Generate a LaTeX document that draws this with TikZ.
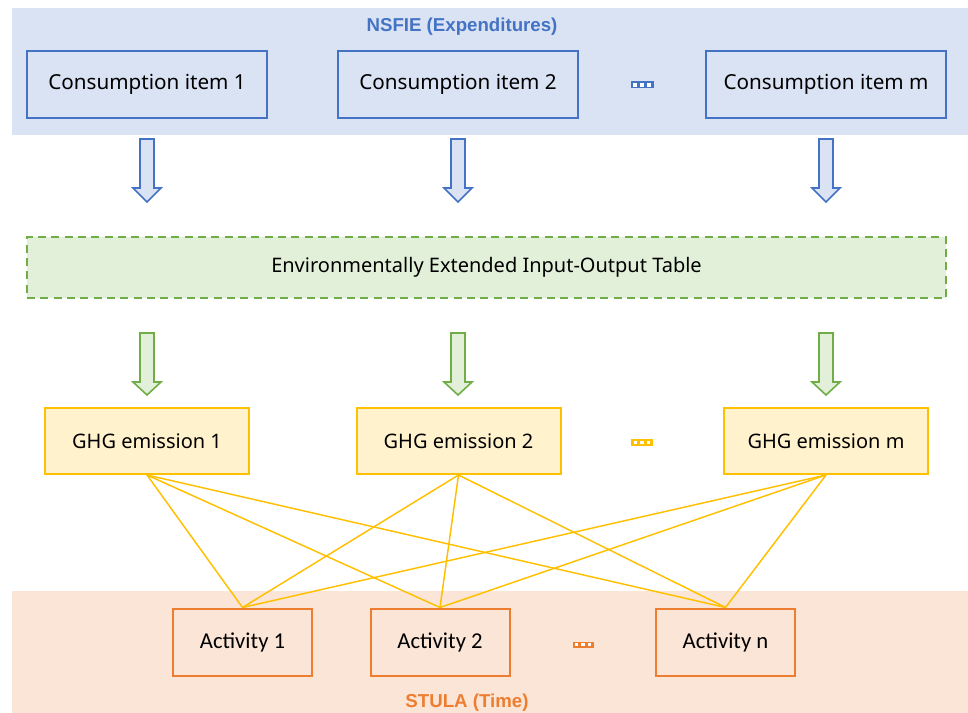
\documentclass[tikz,border=0pt]{standalone}
\usepackage{fontspec}
\newfontfamily\boxfont{Noto Sans}
\newfontfamily\actfont{Carlito}
\newfontfamily\ttlfont{Liberation Sans}
\definecolor{bstroke}{HTML}{4472C4}
\definecolor{bfill}{HTML}{DAE3F3}
\definecolor{gstroke}{HTML}{70AD47}
\definecolor{gfill}{HTML}{E2F0D9}
\definecolor{ystroke}{HTML}{FFC000}
\definecolor{yfill}{HTML}{FFF2CC}
\definecolor{ostroke}{HTML}{ED7D31}
\definecolor{ofill}{HTML}{FBE5D6}
\begin{document}
\begin{tikzpicture}[x=0.75pt,y=-0.75pt,
  consbox/.style={draw=bstroke,line width=1.5pt,fill=bfill,minimum width=180pt,minimum height=50.25pt,inner sep=0pt,font=\boxfont\fontsize{15.5}{18}\selectfont},
  ghgbox/.style={draw=ystroke,line width=1.5pt,fill=yfill,minimum width=153pt,minimum height=49.5pt,inner sep=0pt,font=\boxfont\fontsize{15}{18}\selectfont},
  actbox/.style={draw=ostroke,line width=1.5pt,fill=ofill,minimum width=104.25pt,minimum height=50.25pt,inner sep=0pt,font=\actfont\fontsize{17}{20}\selectfont},
  eeiobox/.style={draw=gstroke,line width=1.3pt,dash pattern=on 6pt off 4pt,fill=gfill,minimum width=689.25pt,minimum height=45.75pt,inner sep=0pt,font=\boxfont\fontsize{15}{18}\selectfont},
  ttl/.style={font=\ttlfont\bfseries\fontsize{14}{16}\selectfont,inner sep=0pt},
  link/.style={draw=ystroke,line width=1.1pt},
  barrow/.style={line width=1.2pt,line join=miter}
]
\useasboundingbox (0,0) rectangle (968,713);
\fill[white] (0,0) rectangle (968,713);
% bands
\fill[bfill] (12,8) rectangle (968,135);
\fill[ofill] (12,591) rectangle (968,713);
% titles
\node[ttl,text=bstroke] (t1) at (462,27) {NSFIE (Expenditures)};
\node[ttl,text=ostroke] (t2) at (467,703) {STULA (Time)};
% consumption boxes
\node[consbox] (c1) at (147,84.5) {Consumption item 1};
\node[consbox] (c2) at (458,84.5) {Consumption item 2};
\node[consbox] (cm) at (826,84.5) {Consumption item m};
% eeio
\node[eeiobox] (e) at (486.5,267.5) {Environmentally Extended Input-Output Table};
% ghg
\node[ghgbox] (g1) at (147,441) {GHG emission 1};
\node[ghgbox] (g2) at (458.5,441) {GHG emission 2};
\node[ghgbox] (g3) at (826,441) {GHG emission m};
% activities
\node[actbox] (a1) at (242.5,642) {Activity 1};
\node[actbox] (a2) at (440,642) {Activity 2};
\node[actbox] (a3) at (725.5,642) {Activity n};
% ellipsis markers
\foreach \cx/\cy/\w/\h/\col in {642/85/23/7/bstroke, 642/442.5/22/7/ystroke, 583/644.5/21/6/ostroke}{
  \fill[\col] (\cx-\w/2,\cy-\h/2) rectangle (\cx+\w/2,\cy+\h/2);
  \foreach \k in {-1,0,1}{
    \fill[white] (\cx+\k*\w/3.3-1.6,\cy-1.6) rectangle (\cx+\k*\w/3.3+1.6,\cy+1.6);
  }
}
% block arrows
\foreach \cx in {147,458,826}{
  \draw[barrow,draw=bstroke,fill=bfill] (\cx-7,139) -- (\cx+7,139) -- (\cx+7,188) -- (\cx+14,188) -- (\cx,202) -- (\cx-14,188) -- (\cx-7,188) -- cycle;
  \draw[barrow,draw=gstroke,fill=gfill] (\cx-7,333) -- (\cx+7,333) -- (\cx+7,382) -- (\cx+14,382) -- (\cx,395) -- (\cx-14,382) -- (\cx-7,382) -- cycle;
}
% links
\foreach \g in {g1,g2,g3}{
  \foreach \a in {a1,a2,a3}{
    \draw[link] (\g.south) -- (\a.north);
  }
}
\end{tikzpicture}
\end{document}
